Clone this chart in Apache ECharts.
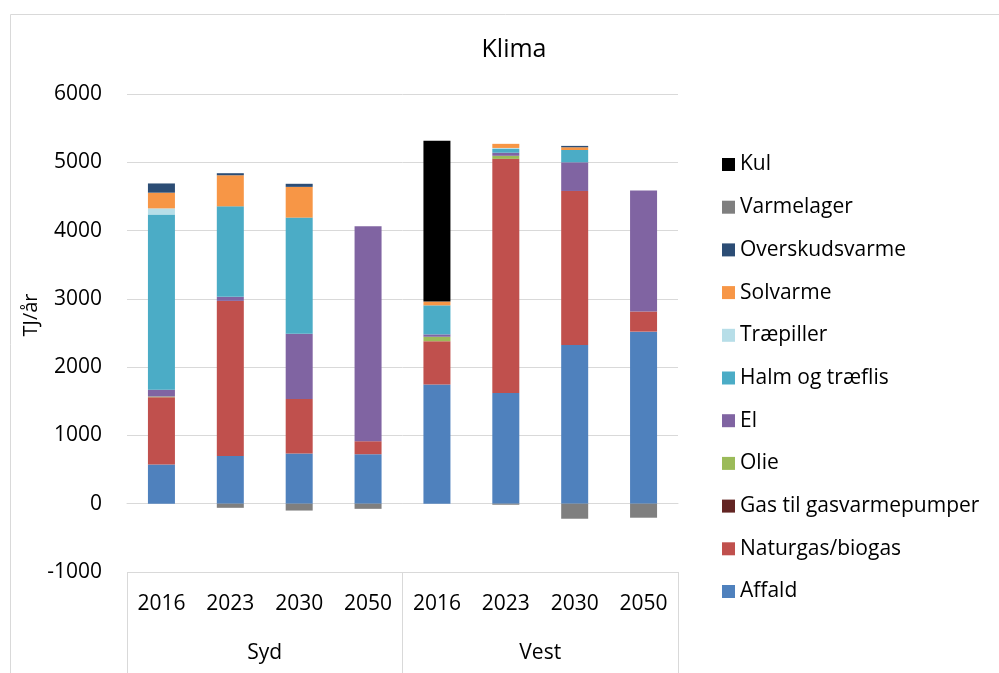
<!DOCTYPE html>
<html>
<head>
<meta charset="utf-8">
<script src="https://cdn.jsdelivr.net/npm/echarts@6/dist/echarts.min.js"></script>
<style>
  html, body { margin: 0; padding: 0; background: #fff; }
  #chart { width: 999px; height: 673px; }
</style>
</head>
<body>
<div id="chart"></div>
<script>
// kategorier: område + år
const years = ['2016', '2023', '2030', '2050', '2016', '2023', '2030', '2050'];
const areas = ['Syd', 'Vest'];
const yTicks = [-1000, 6000, 1000]; // min, max, interval

// værdier i TJ/år
const affald     = [575, 700, 735, 725, 1745, 1620, 2325, 2520];
const naturgas   = [985, 2270, 800, 190, 635, 3430, 2255, 295];
const gasPumper  = [0, 0, 0, 0, 0, 0, 0, 0];
const olie       = [10, 0, 0, 0, 65, 45, 0, 0];
const el         = [100, 60, 955, 3150, 35, 45, 420, 1770];
const halm       = [2565, 1325, 1700, 0, 425, 55, 180, 0];
const traepiller = [90, 0, 0, 0, 0, 15, 0, 0];
const solvarme   = [230, 455, 450, 0, 55, 60, 40, 0];
const overskud   = [135, 30, 45, 0, 0, 0, 20, 0];
const varmelager = [0, -60, -100, -75, 0, -15, -220, -205];
const kul        = [0, 0, 0, 0, 2355, 0, 0, 0];

const FONT = 'Open Sans';
const FS = 21;

const seriesDefs = [
  ['Affald', affald, '#4F81BD'],
  ['Naturgas/biogas', naturgas, '#C0504D'],
  ['Gas til gasvarmepumper', gasPumper, '#632523'],
  ['Olie', olie, '#9BBB59'],
  ['El', el, '#8064A2'],
  ['Halm og træflis', halm, '#4BACC6'],
  ['Træpiller', traepiller, '#B7DEE8'],
  ['Solvarme', solvarme, '#F79646'],
  ['Overskudsvarme', overskud, '#2C4D75'],
  ['Varmelager', varmelager, '#7F7F7F'],
  ['Kul', kul, '#000000']
];

const chart = echarts.init(document.getElementById('chart'));

const option = {
  animation: false,
  title: {
    text: 'Klima',
    left: 509,
    textAlign: 'center',
    top: 32,
    textStyle: { fontFamily: FONT, fontSize: 25, fontWeight: 'normal', color: '#000' }
  },
  legend: {
    orient: 'vertical',
    left: 717,
    top: 149,
    itemWidth: 13,
    itemHeight: 13,
    itemGap: 21.7,
    icon: 'rect',
    data: seriesDefs.map(s => s[0]).reverse(),
    textStyle: { fontFamily: FONT, fontSize: FS, lineHeight: 21, color: '#000' }
  },
  grid: { left: 127, right: 321, top: 94, bottom: 101, containLabel: false },
  xAxis: [
    {
      type: 'category',
      data: years,
      position: 'bottom',
      axisLine: { show: true, lineStyle: { color: '#d9d9d9', width: 1 } },
      axisTick: { show: false },
      axisLabel: { margin: 22, fontFamily: FONT, fontSize: FS, color: '#000' }
    },
    {
      type: 'category',
      data: areas,
      position: 'bottom',
      axisLine: { show: false },
      axisTick: { show: true, length: 101, lineStyle: { color: '#d9d9d9', width: 1 } },
      axisLabel: { margin: 71, fontFamily: FONT, fontSize: FS, color: '#000' }
    }
  ],
  yAxis: {
    type: 'value',
    min: yTicks[0],
    max: yTicks[1],
    interval: yTicks[2],
    axisLine: { show: false },
    axisTick: { show: false },
    splitLine: { lineStyle: { color: '#d9d9d9', width: 1 } },
    axisLabel: {
      margin: 25,
      fontFamily: FONT,
      fontSize: FS,
      color: '#000',
      formatter: v => String(v)
    }
  },
  graphic: [
    {
      type: 'rect',
      shape: { x: 10.5, y: 14.5, width: 1000, height: 700 },
      style: { fill: 'none', stroke: '#d9d9d9', lineWidth: 1 },
      silent: true
    },
    {
      type: 'text',
      x: 31,
      y: 315,
      rotation: Math.PI / 2,
      style: {
        text: 'TJ/år',
        fontFamily: FONT,
        fontSize: 20,
        fill: '#000',
        textAlign: 'center',
        textVerticalAlign: 'middle'
      }
    }
  ],
  series: seriesDefs.map(([name, data, color]) => ({
    name: name,
    type: 'bar',
    stack: 'total',
    xAxisIndex: 0,
    barWidth: 27,
    itemStyle: { color: color },
    data: data
  }))
};

chart.setOption(option);
</script>
</body>
</html>
